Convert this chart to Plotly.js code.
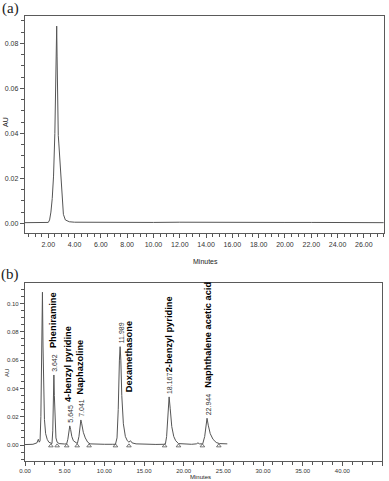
<!DOCTYPE html>
<html>
<head>
<meta charset="utf-8">
<script src="https://cdn.plot.ly/plotly-3.0.1.min.js"></script>
<style>
  html, body { margin: 0; padding: 0; background: #fff; }
  #myDiv { width: 389px; height: 481px; }
</style>
</head>
<body>
<div id="myDiv"></div>
<script>
// (a) blank / single peak chromatogram
var timeA = [0.23, 1.0, 1.8, 2.0, 2.1, 2.2, 2.3, 2.4, 2.5, 2.57, 2.61, 2.64, 2.67, 2.71, 2.76, 2.8, 2.84,
             2.9, 2.97, 3.05, 3.15, 3.3, 3.6, 4.0, 6.0, 8.0, 10.0, 12.0, 14.0, 16.0, 18.0, 20.0, 22.0,
             24.0, 26.0, 27.5];
var auA = [0.0003, 0.0003, 0.0003, 0.0004, 0.0015, 0.005, 0.011, 0.021, 0.04, 0.068, 0.083, 0.0877, 0.074,
           0.05, 0.039, 0.0357, 0.032, 0.025, 0.017, 0.009, 0.004, 0.0015, 0.0007, 0.0005, 0.0004, 0.0005,
           0.0004, 0.0005, 0.0004, 0.0004, 0.0005, 0.0004, 0.0004, 0.0003, 0.0003, 0.0003];

// (b) mixture chromatogram
var timeB = [0.0, 1.0, 1.5, 1.68, 1.8, 1.9, 2.0, 2.05, 2.12, 2.2, 2.27, 2.35, 2.45, 2.6, 2.8, 3.0, 3.3,
             3.4, 3.5, 3.58, 3.642, 3.7, 3.78, 3.9, 4.05, 4.3, 5.0,
             5.25, 5.4, 5.52, 5.645, 5.75, 5.9, 6.1, 6.4, 6.6,
             6.8, 6.95, 7.041, 7.15, 7.35, 7.6, 7.9, 8.2, 9.0, 10.0, 11.0,
             11.4, 11.6, 11.75, 11.9, 11.989, 12.08, 12.2, 12.4, 12.65, 12.9, 13.1, 13.3, 13.5, 14.0, 15.0,
             16.5, 17.5, 17.7, 17.85, 18.0, 18.167, 18.3, 18.5, 18.75, 19.0, 19.35, 20.0, 21.0, 21.6, 21.8,
             22.0, 22.4, 22.65, 22.8, 22.944, 23.1, 23.35, 23.7, 24.1, 24.5, 25.5];
var auB = [0.0003, 0.0005, 0.0015, 0.004, 0.002, 0.003, 0.02, 0.061, 0.075, 0.108, 0.07, 0.035, 0.018,
           0.008, 0.004, 0.002, 0.001,
           0.001, 0.01, 0.035, 0.0495, 0.035, 0.015, 0.005, 0.002, 0.001, 0.0007,
           0.0008, 0.004, 0.01, 0.0135, 0.011, 0.006, 0.003, 0.0015, 0.001,
           0.006, 0.015, 0.0177, 0.015, 0.009, 0.005, 0.002, 0.0008, 0.0005, 0.0005, 0.0005,
           0.0005, 0.005, 0.025, 0.06, 0.0695, 0.06, 0.035, 0.015, 0.006, 0.003, 0.002, 0.003, 0.0015,
           0.0008, 0.0005,
           0.0004, 0.0005, 0.0008, 0.006, 0.022, 0.034, 0.026, 0.013, 0.006, 0.003, 0.001, 0.0006, 0.0005,
           0.0008, 0.0015, 0.0008, 0.0008, 0.006, 0.015, 0.0189, 0.014, 0.008, 0.004, 0.0018, 0.001, 0.0008];

// integration marks
var markTimes = [3.26, 4.05, 5.26, 6.58, 8.08, 11.4, 13.1, 17.6, 19.35, 22.36, 24.43];
var markAU = [-0.0006, -0.0006, -0.0006, -0.0006, -0.0006, -0.0006, -0.0006, -0.0006, -0.0006, -0.0006, -0.0006];

var rtValues = [3.642, 5.645, 7.041, 11.989, 18.167, 22.944];
var rtLabels = ['3.642', '5.645', '7.041', '11.989', '18.167', '22.944'];
var peakAU = [0.0495, 0.0135, 0.0177, 0.0695, 0.034, 0.0189];
var compounds = ['Pheniramine', '4-benzyl pyridine', 'Naphazoline', 'Dexamethasone',
                 '2-benzyl pyridine', 'Naphthalene acetic acid'];

var W = 389, H = 481;
var narrow = 'Liberation Sans Narrow, Arial Narrow, Liberation Sans, Arial, sans-serif';
var serif = '"Times New Roman", "Liberation Serif", "DejaVu Serif", serif';
var ink = '#333';

var data = [
    {x: timeA, y: auA, type: 'scatter', mode: 'lines', xaxis: 'x', yaxis: 'y',
     line: {color: '#555', width: 1}, hoverinfo: 'skip'},
    {x: timeB, y: auB, type: 'scatter', mode: 'lines', xaxis: 'x2', yaxis: 'y2',
     line: {color: '#555', width: 1}, hoverinfo: 'skip'},
    {x: markTimes, y: markAU, type: 'scatter', mode: 'markers', xaxis: 'x2', yaxis: 'y2',
     marker: {symbol: 'triangle-up-open', size: 4, color: '#555', line: {width: 0.8}}, hoverinfo: 'skip'}
];

function axisBase(size) {
    return {
        showgrid: false, zeroline: false, showline: true, linecolor: '#5a5a5a', linewidth: 1.2, mirror: true,
        ticks: 'outside', ticklen: 4, tickcolor: '#555', tickwidth: 1, tickformat: '.2f',
        tickfont: {family: narrow, size: size, color: ink}
    };
}

var xa = axisBase(7);
xa.domain = [25 / W, 384 / W]; xa.range = [0.23, 27.53]; xa.tick0 = 0; xa.dtick = 2; xa.anchor = 'y';
xa.minor = {dtick: 0.5, ticks: 'outside', ticklen: 3, tickcolor: '#555'};

var ya = axisBase(7);
ya.domain = [1 - 233 / H, 1 - 16 / H]; ya.range = [-0.0043, 0.0922]; ya.tick0 = 0; ya.dtick = 0.02; ya.anchor = 'x';
ya.minor = {dtick: 0.005, ticks: 'outside', ticklen: 3, tickcolor: '#555'};

var xb = axisBase(6);
xb.domain = [25 / W, 382 / W]; xb.range = [0, 45]; xb.tick0 = 0; xb.dtick = 5; xb.anchor = 'y2';
xb.minor = {dtick: 1.25, ticks: 'outside', ticklen: 3, tickcolor: '#555'};

var yb = axisBase(6);
yb.domain = [1 - 460.7 / H, 1 - 283.3 / H]; yb.range = [-0.0111, 0.1143]; yb.tick0 = 0; yb.dtick = 0.02; yb.anchor = 'x2';
yb.minor = {dtick: 0.005, ticks: 'outside', ticklen: 3, tickcolor: '#555'};

function paperText(text, px, py, size, family, angle) {
    return {text: text, xref: 'paper', yref: 'paper', x: px / W, y: 1 - py / H,
            xanchor: 'center', yanchor: 'middle', showarrow: false, textangle: angle || 0,
            font: {family: family, size: size, color: '#222'}};
}

var annotations = [
    paperText('(a)', 10, 9, 15, serif),
    paperText('(b)', 10, 274, 15, serif),
    paperText('AU', 5, 122, 7, narrow, -90),
    paperText('Minutes', 205, 261, 7, narrow),
    paperText('AU', 7, 373, 6, narrow, -90),
    paperText('Minutes', 200, 477, 6, narrow)
];

// retention time labels just above each apex
rtValues.forEach(function (t, i) {
    annotations.push({text: rtLabels[i], x: t, y: peakAU[i], xref: 'x2', yref: 'y2',
        xanchor: 'center', yanchor: 'bottom', yshift: 1, xshift: 1, showarrow: false, textangle: -90,
        font: {family: 'Liberation Sans, Arial, sans-serif', size: 7, color: ink}});
});

// compound names (bold, vertical)
var nameX = [3.55, 5.35, 6.94, 13.2, 18.2, 23.05];
var nameY = [0.0884, 0.0575, 0.0548, 0.0626, 0.0785, 0.0778];
compounds.forEach(function (c, i) {
    annotations.push({text: '<b>' + c + '</b>', x: nameX[i], y: nameY[i], xref: 'x2', yref: 'y2',
        xanchor: 'center', yanchor: 'middle', showarrow: false, textangle: -90,
        font: {family: 'Liberation Sans, Arial, sans-serif', size: 9.3, color: '#000'}});
});

var layout = {
    width: W, height: H,
    margin: {l: 0, r: 0, t: 0, b: 0},
    paper_bgcolor: '#fff', plot_bgcolor: '#fff',
    showlegend: false,
    xaxis: xa, yaxis: ya, xaxis2: xb, yaxis2: yb,
    annotations: annotations
};

Plotly.newPlot('myDiv', data, layout, {displayModeBar: false, staticPlot: true});
</script>
</body>
</html>
